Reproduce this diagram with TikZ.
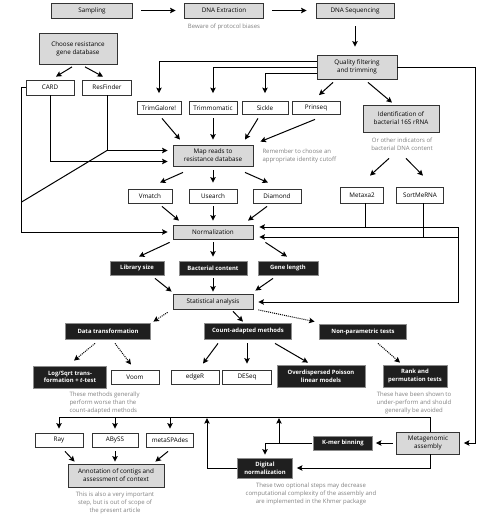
\documentclass[tikz,border=0pt]{standalone}
\usepackage{fontspec}
\setmainfont{Open Sans}
\usetikzlibrary{positioning,arrows.meta}

\definecolor{boxgrey}{gray}{0.85}
\definecolor{notegrey}{gray}{0.5}
\definecolor{darkbox}{gray}{0.12}

\begin{document}
\begin{tikzpicture}[
  x=1pt, y=-1pt, line width=1pt,
  greynode/.style={draw=black!80,fill=boxgrey,line width=0.8pt,align=center,inner sep=1pt,
    minimum width=80pt,minimum height=14pt,font=\fontsize{6.3}{7.8}\selectfont},
  whitenode/.style={greynode,fill=white,minimum width=48pt},
  blacknode/.style={greynode,draw=black!45,fill=darkbox,text=white,font=\fontsize{5.9}{7.6}\selectfont\bfseries},
  note/.style={text=notegrey,align=center,inner sep=0pt,font=\fontsize{6}{8.4}\selectfont},
  arr/.style={-{Stealth[length=5.5pt,width=5.5pt,inset=1pt]}},
  dotarr/.style={arr,densely dotted}
]
\useasboundingbox (0,0) rectangle (483,520);

% sequencing chain
\node[greynode,minimum width=81pt,minimum height=15pt] (sampling) at (92,10.5) {Sampling};
\node[greynode,minimum width=79pt,minimum height=15pt] (extraction) at (224,10.5) {DNA Extraction};
\node[greynode,minimum width=78pt,minimum height=15pt] (sequencing) at (355,10.5) {DNA Sequencing};
\node[note] (beware) at (224,27) {Beware of protocol biases};
\node[greynode,minimum height=24pt] (quality) at (357,67) {Quality filtering\\and trimming};

% databases
\node[greynode,minimum width=78pt,minimum height=31pt] (choosedb) at (78,48.5) {Choose resistance\\gene database};
\node[whitenode,minimum height=15pt] (card) at (50,87.5) {CARD};
\node[whitenode,minimum width=49pt,minimum height=15pt] (resfinder) at (107,87.5) {ResFinder};

% trimming tools
\node[whitenode,minimum width=44pt,minimum height=13pt] (trimgalore) at (159,108) {TrimGalore!};
\node[whitenode,minimum height=13pt] (trimmomatic) at (213,108) {Trimmomatic};
\node[whitenode,minimum width=46pt,minimum height=13pt] (sickle) at (265,108) {Sickle};
\node[whitenode,minimum height=13pt] (prinseq) at (316,108) {Prinseq};

% 16S
\node[greynode,minimum width=76pt,minimum height=27pt] (ident) at (401,118.5) {Identification of\\bacterial 16S rRNA};
\node[note] (otherind) at (402,144) {Or other indicators of\\bacterial DNA content};
\node[whitenode,minimum width=43pt,minimum height=16pt] (metaxa) at (362,195) {Metaxa2};
\node[whitenode,minimum width=47pt,minimum height=16pt] (sortmerna) at (420,195) {SortMeRNA};

% mapping
\node[greynode,minimum height=21pt] (mapreads) at (213,155.5) {Map reads to\\resistance database};
\node[note,align=left,anchor=west] (remember) at (262,156) {Remember to choose an\\appropriate identity cutoff};
\node[whitenode,minimum width=44pt] (vmatch) at (150,196) {Vmatch};
\node[whitenode] (usearch) at (213,196) {Usearch};
\node[whitenode] (diamond) at (277,196) {Diamond};

% normalization
\node[greynode] (norm) at (213,232) {Normalization};
\node[blacknode,minimum width=54pt] (libsize) at (137,268) {Library size};
\node[blacknode,minimum width=68pt] (bactcont) at (213,268) {Bacterial content};
\node[blacknode,minimum width=60pt] (genelen) at (288,268) {Gene length};

% statistics
\node[greynode,minimum height=15pt] (stats) at (213,302) {Statistical analysis};
\node[blacknode,minimum width=85pt,minimum height=16pt] (datatrans) at (108,331) {Data transformation};
\node[blacknode,minimum width=87pt,minimum height=16pt] (countadapt) at (248,331) {Count-adapted methods};
\node[blacknode,minimum width=87pt,minimum height=15pt] (nonparam) at (363,332) {Non-parametric tests};
\node[blacknode,minimum width=73pt,minimum height=22pt] (logsqrt) at (70,377) {Log/Sqrt trans-\\formation + \textit{t}-test};
\node[whitenode] (voom) at (135,377) {Voom};
\node[whitenode] (edger) at (195,377) {edgeR};
\node[whitenode,minimum width=49pt] (deseq) at (247,377) {DESeq};
\node[blacknode,minimum width=88pt,minimum height=22pt] (overdisp) at (321,376) {Overdispersed Poisson\\linear models};
\node[blacknode,minimum width=64pt,minimum height=22pt] (rank) at (415,376) {Rank and\\permutation tests};
\node[note,align=left,anchor=west] (worse) at (69,403) {These methods generally\\perform worse than the\\count-adapted methods};
\node[note] (avoided) at (414,403) {These have been shown to\\under-perform and should\\generally be avoided};

% assembly
\node[whitenode] (ray) at (59,440) {Ray};
\node[whitenode,minimum width=46pt] (abyss) at (115,440) {ABySS};
\node[whitenode,minimum width=47pt] (metaspades) at (170,440) {metaSPAdes};
\node[greynode,minimum width=96pt,minimum height=23pt] (annot) at (116,475.5) {Annotation of contigs and\\assessment of context};
\node[note] (scope) at (115,503) {This is also a very important\\step, but is out of scope of\\the present article};
\node[greynode,minimum width=63pt,minimum height=22pt] (metagen) at (428,443) {Metagenomic\\assembly};
\node[blacknode,minimum width=59pt] (kmer) at (343,443) {K-mer binning};
\node[blacknode,minimum width=55pt,minimum height=20pt] (dignorm) at (265,468) {Digital\\normalization};
\node[note] (khmer) at (311,494) {These two optional steps may decrease\\computational complexity of the assembly and\\are implemented in the Khmer package};

% top row
\draw[arr,shorten <=8.5pt,shorten >=8.5pt] (sampling) -- (extraction);
\draw[arr,shorten <=8.5pt,shorten >=9pt] (extraction) -- (sequencing);
\draw[arr,shorten <=8pt,shorten >=8pt] (sequencing.south) -- (sequencing.south |- quality.north);

% databases
\draw[arr] ([xshift=-6pt,yshift=-2.5pt]choosedb.south) -- ([xshift=6pt,yshift=3pt]card.north);
\draw[arr] ([xshift=7pt,yshift=-2.5pt]choosedb.south) -- ([xshift=-4pt,yshift=3pt]resfinder.north);
\draw[arr,shorten >=5pt] (card.west) -- ++(-4,0) coordinate (cardbend) |- (norm.west);
\draw[arr,shorten >=5pt] (card.south) |- ([yshift=-6pt]mapreads.west);
\draw[arr,shorten >=5pt] (resfinder.south) |- ([yshift=5pt]mapreads.west) coordinate[pos=0.5] (rfbend);
\draw (rfbend) -- (cardbend |- 0,202);

% quality filtering
\draw[arr,shorten >=8pt] ([yshift=6pt]quality.west) -| (trimgalore.north);
\draw[arr,shorten >=8pt] (quality.west) -| (trimmomatic.north);
\draw[arr,shorten >=8pt] ([yshift=-6pt]quality.west) -| (sickle.north);
\draw[arr] ([xshift=-24pt,yshift=-3pt]quality.south) -- ([xshift=3pt,yshift=6pt]prinseq.north);
\draw[arr] ([xshift=11pt,yshift=-3pt]quality.south) -- ([xshift=-9pt,yshift=2pt]ident.north);
\draw[arr,shorten >=4pt] (quality.east) -- ++(78,0) |- (metagen.east);

% into mapping
\draw[arr] ([xshift=3pt,yshift=-3.5pt]trimgalore.south) -- ([xshift=-33pt,yshift=5pt]mapreads.north);
\draw[arr,shorten <=3.5pt,shorten >=5pt] (trimmomatic.south) -- (mapreads.north);
\draw[arr] ([xshift=-7pt,yshift=-3.5pt]sickle.south) -- ([xshift=32pt,yshift=5pt]mapreads.north);
\draw[arr] ([xshift=-1pt,yshift=-4.5pt]prinseq.south) -- ([xshift=7pt,yshift=3pt]mapreads.north east);

% mapping tools
\draw[arr] ([xshift=-30pt,yshift=-6pt]mapreads.south) -- ([xshift=10pt,yshift=6pt]vmatch.north);
\draw[arr,shorten <=4pt,shorten >=6pt] (mapreads.south) -- (usearch.north);
\draw[arr] ([xshift=32pt,yshift=-6pt]mapreads.south) -- ([xshift=-9pt,yshift=6pt]diamond.north);
\draw[arr] ([xshift=12pt,yshift=-3pt]vmatch.south) -- ([xshift=-34pt,yshift=4pt]norm.north);
\draw[arr,shorten <=3pt,shorten >=4pt] (usearch.south) -- (norm.north);
\draw[arr] ([xshift=-10pt,yshift=-3pt]diamond.south) -- ([xshift=35pt,yshift=4pt]norm.north);

% 16S branch
\draw[arr] ([xshift=-12pt,yshift=-26pt]ident.south) -- ([xshift=8pt,yshift=11pt]metaxa.north);
\draw[arr] ([xshift=5pt,yshift=-26pt]ident.south) -- ([xshift=3pt,yshift=11pt]sortmerna.north);
\coordinate (busa) at (458,227);
\coordinate (busb) at (458,237);
\draw ([xshift=3pt]metaxa.south) -- ([xshift=3pt]metaxa.south |- busa);
\draw ([xshift=3pt]sortmerna.south) -- ([xshift=3pt]sortmerna.south |- busb);
\draw[arr,shorten >=6pt] (busa) -- (busa -| norm.east);
\draw[arr,shorten >=6pt] (busb) -- (busb -| norm.east);
\draw[arr,shorten >=5pt] (busa) |- (stats.east);

% normalization factors
\draw[arr] ([xshift=-3pt,yshift=-3pt]norm.south west) -- ([xshift=2pt,yshift=4pt]libsize.north);
\draw[arr,shorten <=3pt,shorten >=4pt] (norm.south) -- (bactcont.north);
\draw[arr] ([xshift=12pt,yshift=-3pt]norm.south east) -- ([xshift=-1pt,yshift=4pt]genelen.north);
\draw[arr] ([xshift=18pt,yshift=-3pt]libsize.south) -- ([xshift=-1pt,yshift=2.5pt]stats.north west);
\draw[arr,shorten <=3pt,shorten >=2.5pt] (bactcont.south) -- (stats.north);
\draw[arr] ([xshift=-15pt,yshift=-3pt]genelen.south) -- ([xshift=2pt,yshift=3.5pt]stats.north east);

% statistics
\draw[dotarr] ([xshift=-5pt,yshift=-2.5pt]stats.south west) -- ([xshift=2.5pt,yshift=1pt]datatrans.north east);
\draw[arr] ([xshift=20pt,yshift=-1.5pt]stats.south) -- ([xshift=-5pt,yshift=1pt]countadapt.north);
\draw[dotarr] ([xshift=5pt]stats.south east) -- ([xshift=-4.5pt,yshift=2.5pt]nonparam.north west);
\draw[dotarr] ([xshift=-13pt,yshift=-4pt]datatrans.south) -- ([xshift=4pt,yshift=5pt]logsqrt.north);
\draw[dotarr] ([xshift=7pt,yshift=-4pt]datatrans.south) -- ([xshift=-4pt,yshift=5pt]voom.north);
\draw[arr] ([xshift=-30pt,yshift=-4pt]countadapt.south) -- ([xshift=8pt,yshift=6pt]edger.north);
\draw[arr,shorten <=4pt,shorten >=6pt] (deseq.north |- countadapt.south) -- (deseq.north);
\draw[arr] ([xshift=27pt,yshift=-4pt]countadapt.south) -- ([xshift=-13pt,yshift=2pt]overdisp.north);
\draw[dotarr] ([xshift=15pt,yshift=-3.5pt]nonparam.south) -- ([xshift=-15pt,yshift=2pt]rank.north);

% assembly
\coordinate (asmbus) at ([yshift=14pt]metagen.north);
\draw ([xshift=2pt]metagen.north) |- (asmbus -| ray.north);
\draw[arr,shorten >=4pt] (asmbus -| ray.north) -- (ray.north);
\draw[arr,shorten >=4pt] (asmbus -| abyss.north) -- (abyss.north);
\draw[arr,shorten >=4pt] (asmbus -| metaspades.north) -- (metaspades.north);
\draw[arr] ([xshift=6pt,yshift=-4pt]ray.south) -- ([xshift=7pt,yshift=2pt]annot.north west);
\draw[arr,shorten <=4pt,shorten >=2pt] (abyss.south) -- (abyss.south |- annot.north);
\draw[arr] ([xshift=-2pt,yshift=-4pt]metaspades.south) -- ([xshift=-9pt,yshift=2pt]annot.north east);
\draw[arr,shorten <=3pt,shorten >=3pt] (metagen.west) -- (kmer.east);
\draw[arr,shorten <=1pt,shorten >=3pt] (kmer.west) -| (dignorm.north);
\draw[arr,shorten >=0.5pt] (kmer.west -| 279,0) -- (asmbus -| 279,0);
\draw[arr,shorten >=4pt] ([xshift=2pt]metagen.south) |- (dignorm.east);
\draw[arr,shorten >=0.5pt] (dignorm.west) -| (asmbus -| 207,0);

\end{tikzpicture}
\end{document}
